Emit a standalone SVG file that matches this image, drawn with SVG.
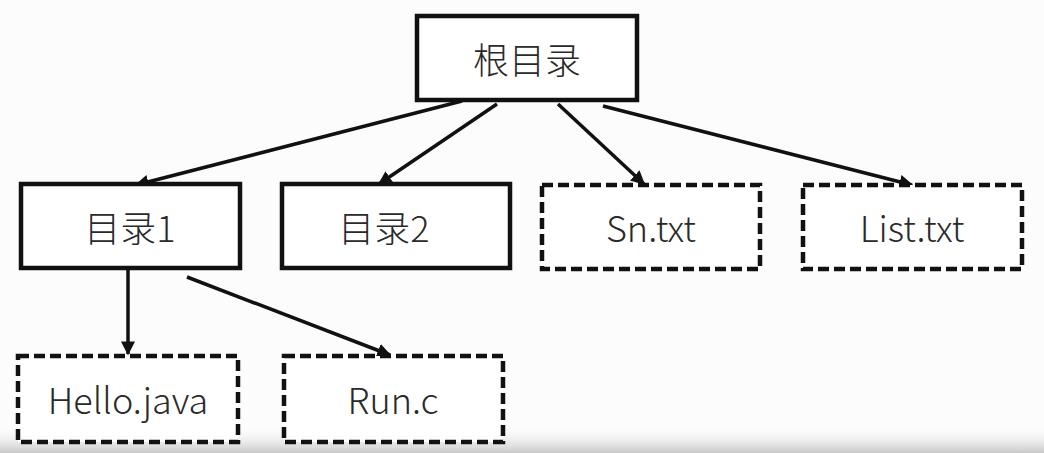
<svg xmlns="http://www.w3.org/2000/svg" width="1044" height="453" viewBox="0 0 1044 453">
<style>
.box{fill:#fff;stroke:#111;stroke-width:4.5}
.dash{stroke-dasharray:11 5}
.lbl{font-family:"Noto Sans CJK SC","Noto Sans",sans-serif;font-size:36px;font-weight:300;fill:#2a2a2a;text-anchor:middle;dominant-baseline:central}
.edge{stroke:#111;stroke-width:3.5;fill:none;marker-end:url(#ah)}
</style>
<defs>
<marker id="ah" viewBox="0 0 10 10" refX="9" refY="5" markerWidth="4" markerHeight="4" orient="auto" markerUnits="strokeWidth">
<path d="M0,0 L10,5 L0,10 z" fill="#111"/>
</marker>
<linearGradient id="bg" x1="0" y1="0" x2="0" y2="1">
<stop offset="0" stop-color="#fff" stop-opacity="0"/>
<stop offset="1" stop-color="#c8c8c8"/>
</linearGradient>
</defs>
<rect width="1044" height="453" fill="#fcfcfc"/>
<rect y="425" width="1044" height="28" fill="url(#bg)"/>
<g id="connectors">
<line class="edge" x1="462" y1="101" x2="136" y2="185"/>
<line class="edge" x1="497" y1="104" x2="379" y2="184"/>
<line class="edge" x1="558" y1="104" x2="644" y2="184"/>
<line class="edge" x1="603" y1="106" x2="912" y2="185"/>
<line class="edge" x1="128" y1="270" x2="128" y2="354"/>
<line class="edge" x1="187" y1="277" x2="390" y2="355"/>
</g>
<g id="root"><rect class="box" x="417" y="16" width="220" height="84"/><text class="lbl" x="527" y="58">根目录</text></g>
<g id="dir1"><rect class="box" x="21" y="184" width="219" height="84"/><text class="lbl" x="130" y="226">目录1</text></g>
<g id="dir2"><rect class="box" x="282" y="184" width="228" height="84"/><text class="lbl" x="384" y="226">目录2</text></g>
<g id="sn"><rect class="box dash" x="542" y="185" width="218" height="84"/><text class="lbl" x="651" y="226">Sn.txt</text></g>
<g id="list"><rect class="box dash" x="803" y="185" width="219" height="84"/><text class="lbl" x="912" y="226">List.txt</text></g>
<g id="hello"><rect class="box dash" x="18" y="356" width="220" height="86"/><text class="lbl" x="128" y="398">Hello.java</text></g>
<g id="run"><rect class="box dash" x="284" y="356" width="219" height="86"/><text class="lbl" x="393" y="398">Run.c</text></g>
</svg>
